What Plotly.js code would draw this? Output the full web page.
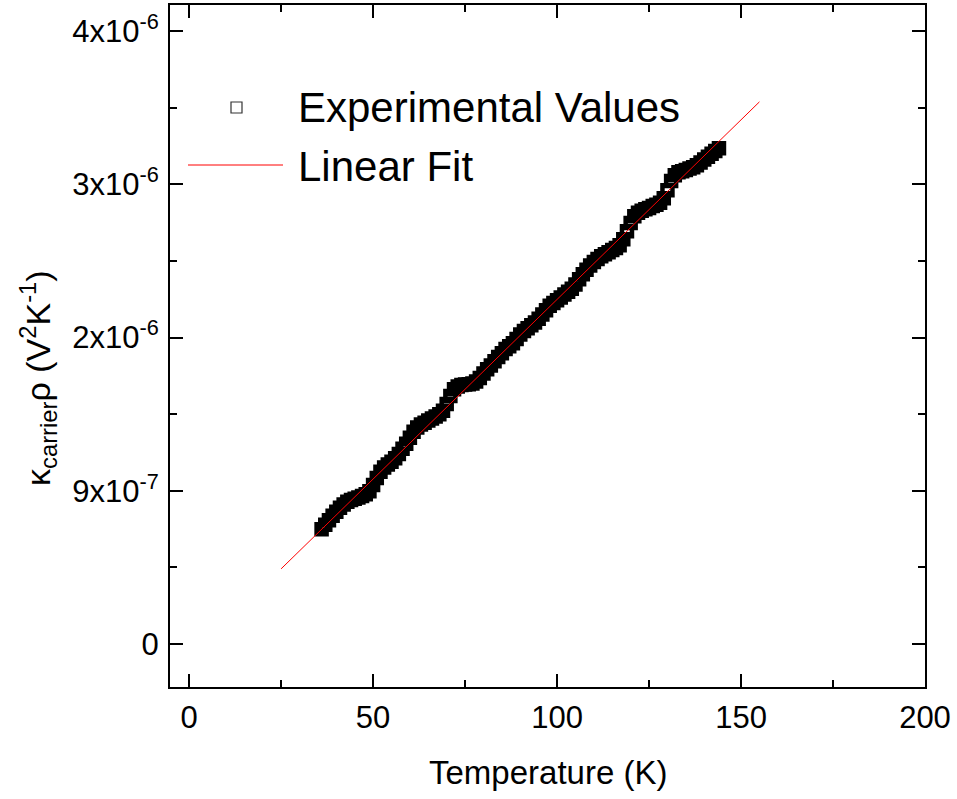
<!DOCTYPE html>
<html><head><meta charset="utf-8">
<script src="https://cdn.plot.ly/plotly-3.0.1.min.js"></script>
<style>html,body{margin:0;padding:0;background:#fff}</style>
</head><body><div id="chart" style="width:957px;height:799px"></div>
<script>
// Experimental values (Temperature in K, kappa_carrier*rho in units of 1e-6 V^2/K)
const temperature = [36,37,38,39,40,41,42,43,44,45,46,47,48,49,50,51,52,53,54,55,56,57,58,59,60,61,62,63,64,65,66,67,68,69,70,71,72,73,74,75,76,77,78,79,80,81,82,83,84,85,86,87,88,89,90,91,92,93,94,95,96,97,98,99,100,101,102,103,104,105,106,107,108,109,110,111,112,113,114,115,116,117,118,119,120,121,122,123,124,125,126,127,128,129,130,131,132,133,134,135,136,137,138,139,140,141,142,143,144];
const kappaRhoMicro = [0.749,0.779,0.808,0.837,0.864,0.889,0.911,0.928,0.940,0.949,0.957,0.966,0.978,0.998,1.038,1.084,1.124,1.152,1.171,1.189,1.213,1.241,1.275,1.308,1.346,1.385,1.413,1.432,1.445,1.459,1.472,1.485,1.499,1.522,1.566,1.619,1.663,1.681,1.690,1.693,1.696,1.700,1.713,1.737,1.765,1.794,1.817,1.846,1.874,1.897,1.926,1.944,1.963,1.991,2.020,2.043,2.061,2.080,2.098,2.122,2.150,2.179,2.207,2.226,2.244,2.262,2.281,2.299,2.318,2.346,2.380,2.413,2.442,2.470,2.493,2.512,2.530,2.544,2.557,2.571,2.584,2.602,2.641,2.694,2.748,2.791,2.815,2.828,2.837,2.845,2.858,2.867,2.880,2.909,2.962,3.021,3.059,3.078,3.086,3.094,3.103,3.111,3.125,3.143,3.162,3.180,3.199,3.217,3.235];
// Linear fit end points
const fitTemperature = [25, 155];
const fitKappaRhoMicro = [0.491, 3.538];
// Tick labels
const xTickVals = [0, 50, 100, 150, 200];
const xTickText = ['0', '50', '100', '150', '200'];
const yTickVals = [0, 1e-6, 2e-6, 3e-6, 4e-6];
const yTickText = ['0', '9x10<sup>-7</sup>', '2x10<sup>-6</sup>', '3x10<sup>-6</sup>', '4x10<sup>-6</sup>'];
const legendNames = ['Experimental Values', 'Linear Fit'];

const kappaRho = kappaRhoMicro.map(v => v * 1e-6);
const fitKappaRho = fitKappaRhoMicro.map(v => v * 1e-6);

const W = 957, H = 799, ML = 170, MR = 32, MT = 5, MB = 112;
const PW = W - ML - MR, PH = H - MT - MB;
const px = x => (x - ML) / PW;
const py = y => (H - MB - y) / PH;
const FONT = '"Liberation Sans", Arial, sans-serif';

const traces = [
  {x: temperature, y: kappaRho, type: 'scatter', mode: 'markers', name: legendNames[0],
   marker: {symbol: 'square-open', size: 10, color: '#000', line: {width: 4.5, color: '#000'}}},
  {x: fitTemperature, y: fitKappaRho, type: 'scatter', mode: 'lines', name: legendNames[1],
   line: {color: '#ff0000', width: 1}}
];

const axisCommon = {
  showgrid: false, zeroline: false, showline: true, linecolor: '#000', linewidth: 2,
  mirror: 'allticks', ticks: 'inside', ticklen: 13, tickwidth: 2, tickcolor: '#000',
  tickfont: {family: FONT, size: 31, color: '#000'}, tickmode: 'array'
};

const layout = {
  width: W, height: H, margin: {l: ML, r: MR, t: MT, b: MB},
  paper_bgcolor: '#fff', plot_bgcolor: '#fff', showlegend: false,
  font: {family: FONT, color: '#000'},
  xaxis: Object.assign({}, axisCommon, {
    range: [-5.2, 200], tickvals: xTickVals, ticktext: xTickText, ticklabelstandoff: 2,
    minor: {tickmode: 'array', tickvals: [25, 75, 125, 175], ticks: 'inside', ticklen: 7, tickwidth: 2, tickcolor: '#000'}
  }),
  yaxis: Object.assign({}, axisCommon, {
    range: [-0.28e-6, 4.17e-6], tickvals: yTickVals, ticktext: yTickText, ticklabelstandoff: 3,
    minor: {tickmode: 'array', tickvals: [0.5e-6, 1.5e-6, 2.5e-6, 3.5e-6], ticks: 'inside', ticklen: 7, tickwidth: 2, tickcolor: '#000'}
  }),
  annotations: [
    {xref: 'paper', yref: 'paper', x: px(548), y: py(773), xanchor: 'center', yanchor: 'middle',
     text: 'Temperature (K)', showarrow: false, font: {family: FONT, size: 33, color: '#000'}},
    {xref: 'paper', yref: 'paper', x: px(38), y: py(378), xanchor: 'center', yanchor: 'middle', textangle: -90,
     text: 'κ<sub>carrier</sub>ρ (V<sup>2</sup>K<sup>-1</sup>)', showarrow: false, font: {family: FONT, size: 34, color: '#000'}},
    {xref: 'paper', yref: 'paper', x: px(296), y: py(108), xanchor: 'left', yanchor: 'middle',
     text: legendNames[0], showarrow: false, font: {family: FONT, size: 42, color: '#000'}},
    {xref: 'paper', yref: 'paper', x: px(296), y: py(166), xanchor: 'left', yanchor: 'middle',
     text: legendNames[1], showarrow: false, font: {family: FONT, size: 42, color: '#000'}}
  ],
  shapes: [
    {type: 'rect', xref: 'paper', yref: 'paper', x0: px(231), x1: px(242), y0: py(113), y1: py(102),
     line: {color: '#333', width: 1.2}, fillcolor: 'rgba(0,0,0,0)'},
    {type: 'line', xref: 'paper', yref: 'paper', x0: px(188), x1: px(283), y0: py(165), y1: py(165),
     line: {color: '#ff0000', width: 1}}
  ]
};

Plotly.newPlot('chart', traces, layout, {staticPlot: true, displayModeBar: false});
</script></body></html>
